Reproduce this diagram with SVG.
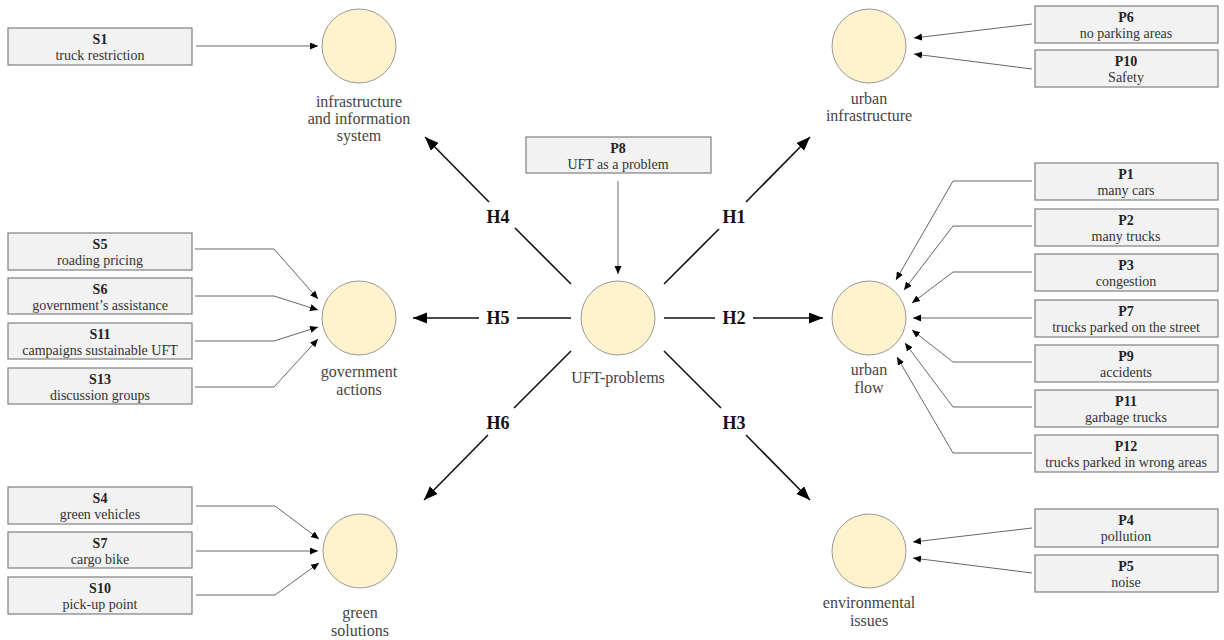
<svg xmlns="http://www.w3.org/2000/svg" width="1224" height="640" viewBox="0 0 1224 640" font-family="'Liberation Serif', 'Times New Roman', 'DejaVu Serif', serif">
<defs>
<style>
.box{fill:#f2f2f2;stroke:#7f7f7f;stroke-width:1.2}
.node{fill:#fff2cc;stroke:#999;stroke-width:1}
.id{font-family:'Liberation Serif','Times New Roman','DejaVu Serif',serif;font-size:14px;font-weight:bold;fill:#222;text-anchor:middle}
.ds{font-family:'Liberation Serif','Times New Roman','DejaVu Serif',serif;font-size:14px;fill:#333;text-anchor:middle}
.lb{font-family:'Liberation Serif','Times New Roman','DejaVu Serif',serif;font-size:16px;fill:#444;text-anchor:middle}
.h{font-family:'Liberation Serif','Times New Roman','DejaVu Serif',serif;font-size:18px;font-weight:bold;fill:#111;text-anchor:middle}
.thin{fill:none;stroke:#666;stroke-width:1}
.thick{fill:none;stroke:#111;stroke-width:1.6}
</style>
<marker id="sa" markerUnits="userSpaceOnUse" markerWidth="9" markerHeight="8" refX="8" refY="3.5" orient="auto"><path d="M0,0 L8,3.5 L0,7 z" fill="#000"/></marker>
<marker id="ba" markerUnits="userSpaceOnUse" markerWidth="15" markerHeight="12" refX="14" refY="5.5" orient="auto"><path d="M0,0 L14,5.5 L0,11 z" fill="#000"/></marker>
</defs>
<rect width="1224" height="640" fill="#fff"/>

<g id="connectors">
<path class="thin" marker-end="url(#sa)" d="M196,46 L318,46"/>
<path class="thin" marker-end="url(#sa)" d="M1032,24 L914,38"/>
<path class="thin" marker-end="url(#sa)" d="M1032,69 L914,54"/>
<path class="thin" marker-end="url(#sa)" d="M618,181 L618,274"/>
<path class="thin" marker-end="url(#sa)" d="M195,249 L274,249 L318,299"/>
<path class="thin" marker-end="url(#sa)" d="M195,296 L274,296 L318,310"/>
<path class="thin" marker-end="url(#sa)" d="M195,341 L274,341 L318,327"/>
<path class="thin" marker-end="url(#sa)" d="M195,387 L274,387 L318,339"/>
<path class="thin" marker-end="url(#sa)" d="M1032,181 L953,181 L896,280"/>
<path class="thin" marker-end="url(#sa)" d="M1032,226 L953,226 L904,290"/>
<path class="thin" marker-end="url(#sa)" d="M1032,272 L953,272 L912,303"/>
<path class="thin" marker-end="url(#sa)" d="M1032,318 L913,318"/>
<path class="thin" marker-end="url(#sa)" d="M1032,362 L953,362 L912,330"/>
<path class="thin" marker-end="url(#sa)" d="M1032,407 L953,407 L905,343"/>
<path class="thin" marker-end="url(#sa)" d="M1032,453 L953,453 L897,357"/>
<path class="thin" marker-end="url(#sa)" d="M196,506 L275,506 L319,539"/>
<path class="thin" marker-end="url(#sa)" d="M196,551 L318,551"/>
<path class="thin" marker-end="url(#sa)" d="M196,595 L275,595 L319,563"/>
<path class="thin" marker-end="url(#sa)" d="M1032,528 L913,542"/>
<path class="thin" marker-end="url(#sa)" d="M1032,573 L913,558"/>
<path class="thick" d="M571,284 L515,228"/>
<path class="thick" marker-end="url(#ba)" d="M489,202 L425,137"/>
<path class="thick" d="M571,318 L517,318"/>
<path class="thick" marker-end="url(#ba)" d="M479,318 L413,318"/>
<path class="thick" d="M664,284 L719,229"/>
<path class="thick" marker-end="url(#ba)" d="M746,202 L810,137"/>
<path class="thick" d="M664,318 L715,318"/>
<path class="thick" marker-end="url(#ba)" d="M753,318 L823,318"/>
<path class="thick" d="M571,351 L514,408"/>
<path class="thick" marker-end="url(#ba)" d="M488,435 L424,500"/>
<path class="thick" d="M664,351 L721,408"/>
<path class="thick" marker-end="url(#ba)" d="M746,435 L810,500"/>
<text class="h" x="498" y="223">H4</text>
<text class="h" x="498" y="324">H5</text>
<text class="h" x="734" y="223">H1</text>
<text class="h" x="734" y="324">H2</text>
<text class="h" x="498" y="429">H6</text>
<text class="h" x="734" y="429">H3</text>
</g>

<g id="n-infra"><circle class="node" cx="359" cy="46" r="37"/><text class="lb" x="359" y="107">infrastructure</text><text class="lb" x="359" y="124">and information</text><text class="lb" x="359" y="141">system</text></g>
<g id="n-urbinfra"><circle class="node" cx="869" cy="46" r="37"/><text class="lb" x="869" y="104">urban</text><text class="lb" x="869" y="121">infrastructure</text></g>
<g id="n-uft"><circle class="node" cx="618" cy="318" r="37"/><text class="lb" x="618" y="383">UFT-problems</text></g>
<g id="n-gov"><circle class="node" cx="359" cy="318" r="37"/><text class="lb" x="359" y="377">government</text><text class="lb" x="359" y="395">actions</text></g>
<g id="n-flow"><circle class="node" cx="869" cy="318" r="37"/><text class="lb" x="869" y="375">urban</text><text class="lb" x="869" y="393">flow</text></g>
<g id="n-green"><circle class="node" cx="360" cy="551" r="37"/><text class="lb" x="360" y="618">green</text><text class="lb" x="360" y="636">solutions</text></g>
<g id="n-env"><circle class="node" cx="869" cy="551" r="37"/><text class="lb" x="869" y="608">environmental</text><text class="lb" x="869" y="626">issues</text></g>

<g id="S1"><rect class="box" x="8" y="28" width="184" height="37"/><text class="id" x="100" y="44">S1</text><text class="ds" x="100" y="60">truck restriction</text></g>
<g id="S5"><rect class="box" x="8" y="233" width="184" height="37"/><text class="id" x="100" y="249">S5</text><text class="ds" x="100" y="265">roading pricing</text></g>
<g id="S6"><rect class="box" x="8" y="278" width="184" height="36"/><text class="id" x="100" y="294">S6</text><text class="ds" x="100" y="310">government’s assistance</text></g>
<g id="S11"><rect class="box" x="8" y="323" width="184" height="36"/><text class="id" x="100" y="339">S11</text><text class="ds" x="100" y="355">campaigns sustainable UFT</text></g>
<g id="S13"><rect class="box" x="8" y="368" width="184" height="36"/><text class="id" x="100" y="384">S13</text><text class="ds" x="100" y="400">discussion groups</text></g>
<g id="S4"><rect class="box" x="8" y="487" width="184" height="37"/><text class="id" x="100" y="503">S4</text><text class="ds" x="100" y="519">green vehicles</text></g>
<g id="S7"><rect class="box" x="8" y="532" width="184" height="36"/><text class="id" x="100" y="548">S7</text><text class="ds" x="100" y="564">cargo bike</text></g>
<g id="S10"><rect class="box" x="8" y="577" width="184" height="37"/><text class="id" x="100" y="593">S10</text><text class="ds" x="100" y="609">pick-up point</text></g>
<g id="P8"><rect class="box" x="526" y="137" width="185" height="36"/><text class="id" x="618" y="153">P8</text><text class="ds" x="618" y="169">UFT as a problem</text></g>
<g id="P6"><rect class="box" x="1035" y="6" width="183" height="37"/><text class="id" x="1126" y="22">P6</text><text class="ds" x="1126" y="38">no parking areas</text></g>
<g id="P10"><rect class="box" x="1035" y="50" width="183" height="37"/><text class="id" x="1126" y="66">P10</text><text class="ds" x="1126" y="82">Safety</text></g>
<g id="P1"><rect class="box" x="1035" y="163" width="183" height="37"/><text class="id" x="1126" y="179">P1</text><text class="ds" x="1126" y="195">many cars</text></g>
<g id="P2"><rect class="box" x="1035" y="209" width="183" height="37"/><text class="id" x="1126" y="225">P2</text><text class="ds" x="1126" y="241">many trucks</text></g>
<g id="P3"><rect class="box" x="1035" y="254" width="183" height="37"/><text class="id" x="1126" y="270">P3</text><text class="ds" x="1126" y="286">congestion</text></g>
<g id="P7"><rect class="box" x="1035" y="300" width="183" height="37"/><text class="id" x="1126" y="316">P7</text><text class="ds" x="1126" y="332">trucks parked on the street</text></g>
<g id="P9"><rect class="box" x="1035" y="345" width="183" height="37"/><text class="id" x="1126" y="361">P9</text><text class="ds" x="1126" y="377">accidents</text></g>
<g id="P11"><rect class="box" x="1035" y="390" width="183" height="37"/><text class="id" x="1126" y="406">P11</text><text class="ds" x="1126" y="422">garbage trucks</text></g>
<g id="P12"><rect class="box" x="1035" y="435" width="183" height="37"/><text class="id" x="1126" y="451">P12</text><text class="ds" x="1126" y="467">trucks parked in wrong areas</text></g>
<g id="P4"><rect class="box" x="1035" y="509" width="183" height="38"/><text class="id" x="1126" y="525">P4</text><text class="ds" x="1126" y="541">pollution</text></g>
<g id="P5"><rect class="box" x="1035" y="555" width="183" height="37"/><text class="id" x="1126" y="571">P5</text><text class="ds" x="1126" y="587">noise</text></g>
</svg>
